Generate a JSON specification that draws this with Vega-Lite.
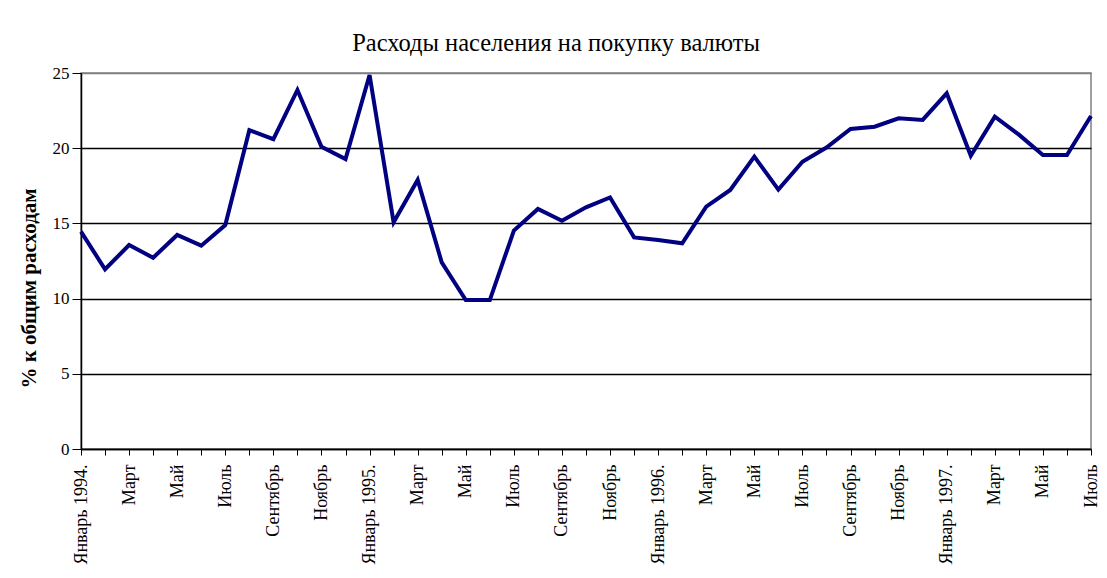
{
  "$schema": "https://vega.github.io/schema/vega-lite/v6.json",
  "autosize": "none",
  "width": 1010,
  "height": 376,
  "padding": {"left": 81, "top": 73, "right": 16, "bottom": 129},
  "background": "white",
  "title": {
    "text": "Расходы населения на покупку валюты",
    "font": "Liberation Serif",
    "fontSize": 24.5,
    "fontWeight": "normal",
    "color": "black",
    "anchor": "middle",
    "dx": -30,
    "offset": 8
  },
  "data": {
    "values": [
      {"m": "1994-01|Январь 1994.", "v": 14.45},
      {"m": "1994-02|", "v": 11.95},
      {"m": "1994-03|Март", "v": 13.56},
      {"m": "1994-04|", "v": 12.72},
      {"m": "1994-05|Май", "v": 14.23},
      {"m": "1994-06|", "v": 13.52},
      {"m": "1994-07|Июль", "v": 14.89},
      {"m": "1994-08|", "v": 21.2},
      {"m": "1994-09|Сентябрь", "v": 20.6},
      {"m": "1994-10|", "v": 23.87},
      {"m": "1994-11|Ноябрь", "v": 20.1},
      {"m": "1994-12|", "v": 19.28},
      {"m": "1995-01|Январь 1995.", "v": 24.87},
      {"m": "1995-02|", "v": 15.07},
      {"m": "1995-03|Март", "v": 17.89},
      {"m": "1995-04|", "v": 12.41},
      {"m": "1995-05|Май", "v": 9.9},
      {"m": "1995-06|", "v": 9.9},
      {"m": "1995-07|Июль", "v": 14.52},
      {"m": "1995-08|", "v": 15.96},
      {"m": "1995-09|Сентябрь", "v": 15.18},
      {"m": "1995-10|", "v": 16.07},
      {"m": "1995-11|Ноябрь", "v": 16.73},
      {"m": "1995-12|", "v": 14.07},
      {"m": "1996-01|Январь 1996.", "v": 13.9},
      {"m": "1996-02|", "v": 13.68},
      {"m": "1996-03|Март", "v": 16.11},
      {"m": "1996-04|", "v": 17.22},
      {"m": "1996-05|Май", "v": 19.44},
      {"m": "1996-06|", "v": 17.25},
      {"m": "1996-07|Июль", "v": 19.1},
      {"m": "1996-08|", "v": 20.04},
      {"m": "1996-09|Сентябрь", "v": 21.28},
      {"m": "1996-10|", "v": 21.43},
      {"m": "1996-11|Ноябрь", "v": 21.99},
      {"m": "1996-12|", "v": 21.88},
      {"m": "1997-01|Январь 1997.", "v": 23.65},
      {"m": "1997-02|", "v": 19.5},
      {"m": "1997-03|Март", "v": 22.1},
      {"m": "1997-04|", "v": 20.9},
      {"m": "1997-05|Май", "v": 19.55},
      {"m": "1997-06|", "v": 19.55},
      {"m": "1997-07|Июль", "v": 22.14}
    ]
  },
  "mark": {"type": "line", "color": "#000080", "strokeWidth": 4, "strokeJoin": "miter"},
  "encoding": {
    "x": {
      "field": "m",
      "type": "ordinal",
      "sort": null,
      "scale": {"type": "point", "padding": 0},
      "axis": {
        "title": null,
        "labelExpr": "split(datum.value, '|')[1]",
        "labelAngle": -90,
        "labelFont": "Liberation Serif",
        "labelFontSize": 18,
        "labelColor": "black",
        "labelPadding": 9,
        "tickColor": "black",
        "tickSize": 6,
        "domainColor": "black",
        "domainWidth": 1.5,
        "grid": false,
        "labelOverlap": false
      }
    },
    "y": {
      "field": "v",
      "type": "quantitative",
      "scale": {"domain": [0, 25], "nice": false},
      "axis": {
        "title": "% к общим расходам",
        "titleFont": "Liberation Serif",
        "titleFontSize": 21,
        "titleFontWeight": "bold",
        "titleColor": "black",
        "titlePadding": 13,
        "titleY": 215,
        "values": [0, 5, 10, 15, 20, 25],
        "labelFont": "Liberation Serif",
        "labelFontSize": 17,
        "labelColor": "black",
        "labelPadding": 3,
        "tickColor": "black",
        "tickSize": 9,
        "domainColor": "black",
        "domainWidth": 1.5,
        "gridColor": {"condition": {"test": "datum.value == 25", "value": "#808080"}, "value": "black"},
        "gridWidth": 1.5
      }
    }
  },
  "config": {
    "view": {"stroke": "#808080", "strokeWidth": 1.5}
  }
}
